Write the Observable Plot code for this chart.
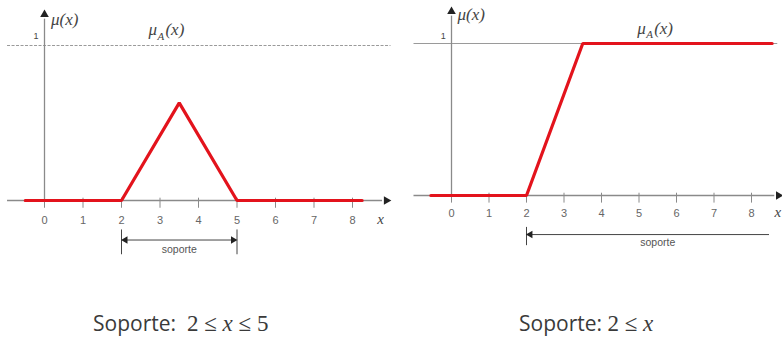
<!DOCTYPE html>
<html>
<head>
<meta charset="utf-8">
<script src="https://cdn.jsdelivr.net/npm/d3@7"></script>
<script src="https://cdn.jsdelivr.net/npm/@observablehq/plot@0.6"></script>
<style>
  html, body { margin: 0; padding: 0; background: #fff; }
  #wrap { position: relative; width: 782px; height: 345px; overflow: hidden; }
  .panel { position: absolute; top: 0; }
  .caption {
    position: absolute; top: 309px; white-space: pre;
    font-family: "Open Sans", sans-serif; font-size: 21px; color: #3a3a3a;
  }
  .caption .m { font-family: "Liberation Serif", serif; font-size: 23px; }
  .caption i { font-family: "Liberation Serif", serif; }
</style>
</head>
<body>
<div id="wrap"></div>
<script>
// Tick positions along the universe of discourse
const ticks = [0, 1, 2, 3, 4, 5, 6, 7, 8];

// Triangular membership function μA(x)
const triX = [-0.5, 2, 3.5, 5, 8.25];
const triMu = [0, 0, 0.63, 0, 0];

// Ramp (open right) membership function μA(x)
const rampX = [-0.55, 2, 3.5, 8.55];
const rampMu = [0, 0, 1, 1];

// Support bounds of each set
const supportTri = [2, 5];
const supportRamp = [2, 8.48];

const captionTri = ["Soporte:  ", "2 ≤ ", "x", " ≤ 5"];
const captionRamp = ["Soporte: ", "2 ≤ ", "x", ""];

const red = "#e3131c";
const axisGray = "#8a8a8a";
const labelGray = "#666";

function panel(cfg) {
  const pts = cfg.xs.map((x, i) => ({x, y: cfg.ys[i]}));
  const serif = "Liberation Serif, serif";
  const sans = "Liberation Sans, Arial, sans-serif";
  const marks = [
    // membership level 1
    Plot.ruleY([1], {x1: cfg.axisFrom, x2: cfg.topTo, stroke: "#9a9a9a", strokeWidth: 1,
      strokeDasharray: cfg.topDash}),
    // horizontal axis with arrowhead
    Plot.ruleY([0], {x1: cfg.axisFrom, x2: cfg.arrowX - 0.1, stroke: axisGray, strokeWidth: 1.3}),
    Plot.dot([0], {x: cfg.arrowX, y: 0, symbol: "triangle", rotate: 90, r: 3.2, fill: "#222", stroke: null}),
    // vertical axis with arrowhead
    Plot.ruleX([0], {y1: 0, y2: cfg.arrowY - 0.03, stroke: axisGray, strokeWidth: 1.3}),
    Plot.dot([0], {x: 0, y: cfg.arrowY, symbol: "triangle", rotate: 0, r: 3.2, fill: "#222", stroke: null}),
    // tick marks and labels
    Plot.ruleX(ticks, {x: d => d, y1: 0.015, y2: -0.05, stroke: axisGray, strokeWidth: 1}),
    Plot.text(ticks, {x: d => d, y: cfg.tickLabelY, text: d => String(d), fill: labelGray,
      fontSize: 11, fontFamily: sans}),
    Plot.text(["x"], {x: cfg.xLabelX, y: cfg.tickLabelY + 0.01, text: d => d, fill: "#444",
      fontSize: 15, fontStyle: "italic", fontFamily: serif}),
    // y-axis labels
    Plot.text(["1"], {x: -0.22, y: cfg.oneY, text: d => d, fill: "#444", fontSize: 9, fontFamily: sans}),
    Plot.text(["μ(x)"], {x: cfg.muX, y: cfg.muY, text: d => d, fill: "#444", fontSize: 17,
      fontStyle: "italic", textAnchor: "start", fontFamily: serif}),
    // μA(x) label: μ, subscript A, (x)
    Plot.text(["μ"], {x: cfg.muAX, y: cfg.muAY, text: d => d, fill: "#444", fontSize: 17,
      fontStyle: "italic", textAnchor: "start", fontFamily: serif}),
    Plot.text(["A"], {x: cfg.muAX, y: cfg.muAY, dx: 9, dy: 6, text: d => d, fill: "#444", fontSize: 11,
      fontStyle: "italic", textAnchor: "start", fontFamily: serif}),
    Plot.text(["(x)"], {x: cfg.muAX, y: cfg.muAY, dx: 17, text: d => d, fill: "#444", fontSize: 17,
      fontStyle: "italic", textAnchor: "start", fontFamily: serif}),
    // membership function
    Plot.line(pts, {x: "x", y: "y", stroke: red, strokeWidth: 3.2, strokeLinejoin: "miter"}),
    // support bracket
    Plot.ruleX(cfg.bracketTicks, {x: d => d, y1: cfg.bTop, y2: cfg.bBottom, stroke: "#444", strokeWidth: 1}),
    Plot.ruleY([cfg.bY], {x1: cfg.support[0] + 0.12, x2: cfg.support[1] - (cfg.bothArrows ? 0.12 : 0),
      stroke: "#444", strokeWidth: 1}),
    Plot.dot([cfg.support[0]], {x: d => d + 0.1, y: cfg.bY, symbol: "triangle", rotate: -90, r: 2.8, fill: "#222", stroke: null}),
    Plot.dot(cfg.bothArrows ? [cfg.support[1]] : [], {x: d => d - 0.1, y: cfg.bY, symbol: "triangle", rotate: 90, r: 2.8, fill: "#222", stroke: null}),
    Plot.text(["soporte"], {x: cfg.soporteX, y: cfg.soporteY, text: d => d, fill: "#555", fontSize: 10.5,
      fontFamily: sans})
  ];
  return Plot.plot({
    width: 392,
    height: 345,
    x: {domain: [0, 8], range: cfg.xRange},
    y: {domain: [0, 1], range: cfg.yRange},
    axis: null,
    style: {background: "transparent", overflow: "visible"},
    marks
  });
}

const left = panel({
  xs: triX, ys: triMu,
  xRange: [44, 352], yRange: [200, 45],
  axisFrom: -0.96, topTo: 9.0, topDash: "3,1.5",
  arrowX: 8.88, arrowY: 1.2,
  tickLabelY: -0.13, xLabelX: 8.73,
  oneY: 1.06, muX: 0.17, muY: 1.17, muAX: 2.7, muAY: 1.1,
  support: supportTri, bracketTicks: supportTri, bothArrows: true,
  bTop: -0.19, bBottom: -0.35, bY: -0.255,
  soporteX: 3.5, soporteY: -0.32
});

const right = panel({
  xs: rampX, ys: rampMu,
  xRange: [61, 361], yRange: [195, 43],
  axisFrom: -1.0, topTo: 8.7, topDash: null,
  arrowX: 8.72, arrowY: 1.21,
  tickLabelY: -0.12, xLabelX: 8.7,
  oneY: 1.05, muX: 0.16, muY: 1.19, muAX: 4.95, muAY: 1.1,
  support: supportRamp, bracketTicks: [supportRamp[0]], bothArrows: false,
  bTop: -0.21, bBottom: -0.33, bY: -0.257,
  soporteX: 5.5, soporteY: -0.31
});

const wrap = document.getElementById("wrap");
left.classList.add("panel"); left.style.left = "0px";
right.classList.add("panel"); right.style.left = "390px";
wrap.appendChild(left);
wrap.appendChild(right);

function caption(parts, leftPx) {
  const div = document.createElement("div");
  div.className = "caption";
  div.style.left = leftPx + "px";
  div.appendChild(document.createTextNode(parts[0]));
  const m = document.createElement("span");
  m.className = "m";
  m.appendChild(document.createTextNode(parts[1]));
  const it = document.createElement("i");
  it.textContent = parts[2];
  m.appendChild(it);
  m.appendChild(document.createTextNode(parts[3]));
  div.appendChild(m);
  wrap.appendChild(div);
}
caption(captionTri, 93);
caption(captionRamp, 519);
</script>
</body>
</html>
